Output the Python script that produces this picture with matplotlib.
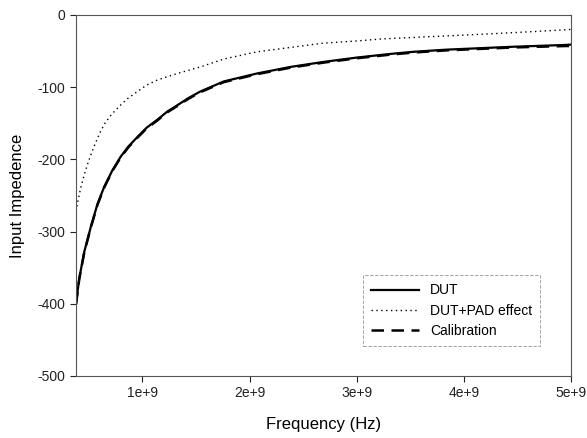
import matplotlib
matplotlib.use("Agg")
import matplotlib.pyplot as plt

plt.rcParams["font.family"] = ["Liberation Sans", "DejaVu Sans"]

# frequency points (Hz)
freq_dut = [0.38e9, 0.41e9, 0.457e9, 0.519e9, 0.58e9, 0.643e9, 0.72e9, 0.798e9,
            0.87e9, 0.953e9, 1.04e9, 1.14e9, 1.23e9, 1.326e9, 1.43e9,
            1.54e9, 1.76e9, 2.07e9, 2.38e9, 2.69e9, 3.0e9, 3.31e9, 3.53e9,
            3.84e9, 4.15e9, 4.46e9, 4.95e9, 5.0e9]
dut = [-400, -365, -328, -293, -262, -238, -215, -196,
       -182, -169, -156, -145, -134, -125, -115,
       -106, -92, -81, -72, -65, -59, -54, -51,
       -48, -46, -44, -41.5, -41]
calib = [-401, -366, -329, -294, -263, -239, -216, -197,
         -183, -170, -157, -146, -135, -126, -116,
         -107, -93, -82, -73, -66, -60, -55, -52,
         -49, -47, -45, -43, -43]

freq_pad = [0.38e9, 0.40e9, 0.42e9, 0.45e9, 0.48e9, 0.52e9, 0.56e9, 0.60e9,
            0.65e9, 0.71e9, 0.78e9, 0.86e9, 0.953e9, 1.04e9, 1.14e9,
            1.326e9, 1.54e9, 1.76e9, 2.07e9, 2.38e9, 2.69e9, 3.0e9, 3.25e9,
            3.84e9, 4.46e9, 4.95e9, 5.0e9]
pad = [-272, -256, -242, -225, -210, -193, -178, -164,
       -150, -138, -127, -116, -106, -97, -90,
       -81, -72, -61, -51, -45, -39, -36, -33,
       -29, -24.5, -20.5, -20]

fig = plt.figure(figsize=(5.87, 4.38), dpi=100)
ax = fig.add_axes([0.1295, 0.1416, 0.8432, 0.8242])

ax.plot(freq_dut, dut, color="black", lw=1.6, label="DUT")
ax.plot(freq_pad, pad, color="black", lw=1.0, ls=(0, (1, 2.5)), label="DUT+PAD effect")
ax.plot(freq_dut, calib, color="black", lw=1.8, ls=(0, (5, 3)), label="Calibration")

ax.set_xlim(0.38e9, 5e9)
ax.set_ylim(-500, 0)
ax.set_xticks([1e9, 2e9, 3e9, 4e9, 5e9])
ax.set_xticklabels(["1e+9", "2e+9", "3e+9", "4e+9", "5e+9"])
ax.set_yticks([-500, -400, -300, -200, -100, 0])
ax.set_yticklabels(["-500", "-400", "-300", "-200", "-100", "0"])
ax.tick_params(direction="out", length=4, width=0.8, labelsize=10, colors="#222")
for s in ax.spines.values():
    s.set_color("#555")
    s.set_linewidth(0.8)

ax.set_xlabel("Frequency (Hz)", fontsize=12, labelpad=12)
ax.set_ylabel("Input Impedence", fontsize=12, labelpad=9)

leg = ax.legend(loc="lower right", bbox_to_anchor=(0.952, 0.063), fontsize=10,
                frameon=True, fancybox=False, handlelength=3.4, borderpad=0.6,
                labelspacing=0.45)
leg.get_frame().set_edgecolor("#777")
leg.get_frame().set_linewidth(0.6)
leg.get_frame().set_linestyle((0, (4, 2)))

fig.savefig("out.png", dpi=100)
